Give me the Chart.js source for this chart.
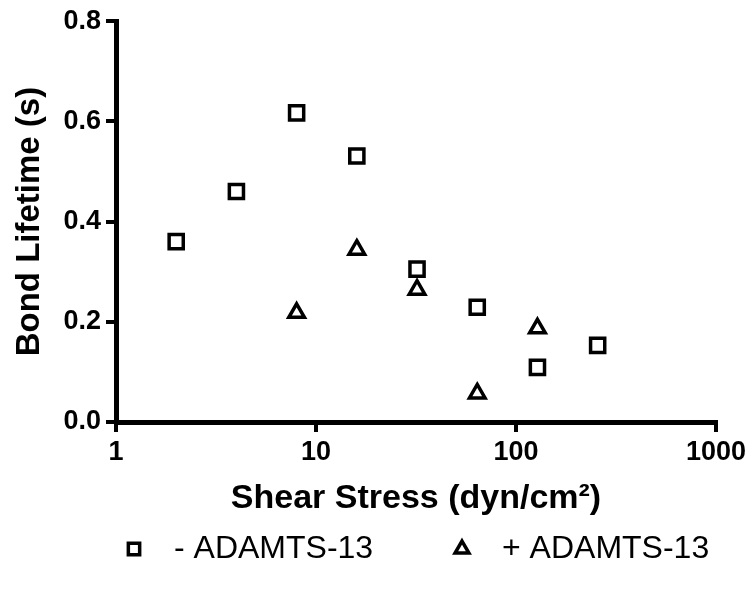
<!DOCTYPE html>
<html>
<head>
<meta charset="utf-8">
<script src="https://cdn.jsdelivr.net/npm/chart.js"></script>
<style>
  html, body { margin: 0; padding: 0; background: #fff; }
</style>
</head>
<body>
<canvas id="chart" width="753" height="597"></canvas>
<script>
// shear stress (dyn/cm2) and bond lifetime (s)
const shearMinus = [2, 4, 8, 16, 32, 64, 128, 256];
const lifetimeMinus = [0.360, 0.460, 0.617, 0.531, 0.305, 0.229, 0.109, 0.153];
const shearPlus = [8, 16, 32, 64, 128];
const lifetimePlus = [0.218, 0.344, 0.264, 0.057, 0.187];
const seriesLabels = ['- ADAMTS-13', '+ ADAMTS-13'];
const xTicks = [1, 10, 100, 1000];
const yTicks = [0, 0.2, 0.4, 0.6, 0.8];

const toPoints = (xs, ys) => xs.map((x, i) => ({ x: x, y: ys[i] }));

Chart.defaults.color = '#000';
Chart.defaults.font.family = '"Liberation Sans", Arial, Helvetica, sans-serif';

// legend drawn under the x title, two items side by side
const bottomLegend = {
  id: 'bottomLegend',
  afterDraw(chart, args, opts) {
    const ctx = chart.ctx;
    ctx.save();
    ctx.font = opts.fontSize + 'px ' + Chart.defaults.font.family;
    ctx.textBaseline = 'middle';
    ctx.textAlign = 'left';
    chart.data.datasets.forEach((ds, i) => {
      const x = opts.markerX[i];
      ctx.strokeStyle = ds.borderColor;
      ctx.fillStyle = 'rgba(0,0,0,0)';
      ctx.lineWidth = ds.borderWidth;
      Chart.helpers.drawPoint(ctx, {
        pointStyle: ds.pointStyle,
        radius: opts.radius,
        borderWidth: ds.borderWidth,
        rotation: 0
      }, x, opts.y);
      ctx.fillStyle = '#000';
      ctx.fillText(ds.label, x + opts.textGap, opts.y);
    });
    ctx.restore();
  }
};

new Chart(document.getElementById('chart'), {
  type: 'scatter',
  data: {
    datasets: [
      {
        label: seriesLabels[0],
        data: toPoints(shearMinus, lifetimeMinus),
        pointStyle: 'rect',
        pointRadius: 10,
        borderWidth: 3.5,
        borderColor: '#000',
        backgroundColor: 'rgba(0,0,0,0)'
      },
      {
        label: seriesLabels[1],
        data: toPoints(shearPlus, lifetimePlus),
        pointStyle: 'triangle',
        pointRadius: 9,
        borderWidth: 3.5,
        borderColor: '#000',
        backgroundColor: 'rgba(0,0,0,0)'
      }
    ]
  },
  plugins: [bottomLegend],
  options: {
    responsive: false,
    animation: false,
    events: [],
    layout: { padding: { top: 20, right: 37, left: 0, bottom: 78 } },
    plugins: {
      tooltip: { enabled: false },
      legend: { display: false },
      bottomLegend: { y: 549, markerX: [134, 462], textGap: 40, radius: 8, fontSize: 32 }
    },
    scales: {
      x: {
        type: 'logarithmic',
        min: 1,
        max: 1000,
        afterBuildTicks: s => { s.ticks = xTicks.map(v => ({ value: v })); },
        afterFit: s => { s.height = 97; },
        ticks: {
          autoSkip: false,
          maxRotation: 0,
          padding: 4,
          color: '#000',
          font: { size: 27, weight: 'bold' },
          callback: v => String(v)
        },
        grid: { drawOnChartArea: false, color: '#000', lineWidth: 4, tickLength: 10 },
        border: { color: '#000', width: 5 },
        title: {
          display: true,
          text: 'Shear Stress (dyn/cm²)',
          color: '#000',
          font: { size: 34, weight: 'bold' },
          padding: { top: 0, bottom: 0 }
        }
      },
      y: {
        min: 0,
        max: 0.8,
        afterBuildTicks: s => { s.ticks = yTicks.map(v => ({ value: v })); },
        afterFit: s => { s.width = 116; },
        ticks: {
          padding: 5,
          color: '#000',
          font: { size: 27, weight: 'bold' },
          callback: v => v.toFixed(1)
        },
        grid: { drawOnChartArea: false, color: '#000', lineWidth: 4, tickLength: 10 },
        border: { color: '#000', width: 5 },
        title: {
          display: true,
          text: 'Bond Lifetime (s)',
          color: '#000',
          font: { size: 33, weight: 'bold' },
          padding: 10
        }
      }
    }
  }
});
</script>
</body>
</html>
